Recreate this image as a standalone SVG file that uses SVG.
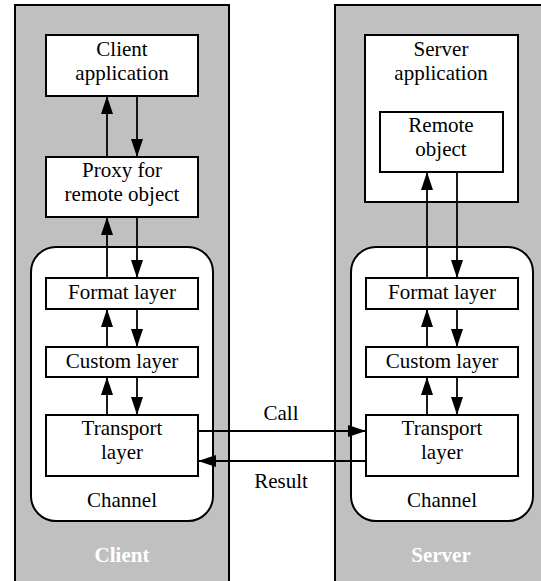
<svg xmlns="http://www.w3.org/2000/svg" width="541" height="581" viewBox="0 0 541 581">
<style>
.side{fill:#c0c0c0;stroke:#000;stroke-width:2}
.box{fill:#fff;stroke:#000;stroke-width:2}
.t{font-family:"Liberation Serif","Times New Roman",serif;font-size:21px;fill:#000;text-anchor:middle}
.lbl{font-family:"Liberation Serif","Times New Roman",serif;font-size:21px;font-weight:bold;fill:#fff;text-anchor:middle}
.c{stroke:#000;stroke-width:1.8;fill:none;marker-end:url(#ah)}
</style>
<defs>
<marker id="ah" markerUnits="userSpaceOnUse" viewBox="0 0 18 12" refX="18" refY="6" markerWidth="18" markerHeight="12" orient="auto">
<path d="M0,0 L18,6 L0,12 Z" fill="#000"/>
</marker>
</defs>
<g id="client">
<rect class="side" x="15" y="5" width="214" height="590"/>
<text class="lbl" x="122" y="562">Client</text>
</g>
<g id="server">
<rect class="side" x="335" y="5" width="220" height="590"/>
<text class="lbl" x="441" y="562">Server</text>
</g>
<g id="client-channel">
<rect class="box" x="31" y="247" width="182" height="274" rx="25" ry="25"/>
<text class="t" x="122" y="507">Channel</text>
</g>
<g id="server-channel">
<rect class="box" x="351" y="247" width="182" height="274" rx="25" ry="25"/>
<text class="t" x="442" y="507">Channel</text>
</g>
<g id="client-app">
<rect class="box" x="46" y="35" width="152" height="61"/>
<text class="t" x="122" y="56">Client</text>
<text class="t" x="122" y="80">application</text>
</g>
<g id="proxy">
<rect class="box" x="46" y="157" width="152" height="60"/>
<text class="t" x="122" y="177">Proxy for</text>
<text class="t" x="122" y="201">remote object</text>
</g>
<g id="client-format">
<rect class="box" x="46" y="278" width="152" height="31"/>
<text class="t" x="122" y="299">Format layer</text>
</g>
<g id="client-custom">
<rect class="box" x="46" y="347" width="152" height="30"/>
<text class="t" x="122" y="368">Custom layer</text>
</g>
<g id="client-transport">
<rect class="box" x="46" y="415" width="152" height="61"/>
<text class="t" x="122" y="435">Transport</text>
<text class="t" x="122" y="459">layer</text>
</g>
<g id="server-app">
<rect class="box" x="365" y="35" width="153" height="167"/>
<text class="t" x="441" y="56">Server</text>
<text class="t" x="441" y="80">application</text>
</g>
<g id="remote-object">
<rect class="box" x="380" y="112" width="123" height="60"/>
<text class="t" x="441" y="132">Remote</text>
<text class="t" x="441" y="156">object</text>
</g>
<g id="server-format">
<rect class="box" x="366" y="278" width="152" height="31"/>
<text class="t" x="442" y="299">Format layer</text>
</g>
<g id="server-custom">
<rect class="box" x="366" y="347" width="152" height="30"/>
<text class="t" x="442" y="368">Custom layer</text>
</g>
<g id="server-transport">
<rect class="box" x="366" y="415" width="152" height="61"/>
<text class="t" x="442" y="435">Transport</text>
<text class="t" x="442" y="459">layer</text>
</g>
<g id="connectors">
<path class="c" d="M107,157 V96"/>
<path class="c" d="M137,96 V157"/>
<path class="c" d="M107,278 V217"/>
<path class="c" d="M137,217 V278"/>
<path class="c" d="M107,347 V309"/>
<path class="c" d="M137,309 V347"/>
<path class="c" d="M107,415 V377"/>
<path class="c" d="M137,377 V415"/>
<path class="c" d="M427,278 V172"/>
<path class="c" d="M457,172 V278"/>
<path class="c" d="M427,347 V309"/>
<path class="c" d="M457,309 V347"/>
<path class="c" d="M427,415 V377"/>
<path class="c" d="M457,377 V415"/>
<path class="c" d="M198,431 H366"/>
<path class="c" d="M366,461 H198"/>
<text class="t" x="281" y="420">Call</text>
<text class="t" x="281" y="488">Result</text>
</g>
</svg>
